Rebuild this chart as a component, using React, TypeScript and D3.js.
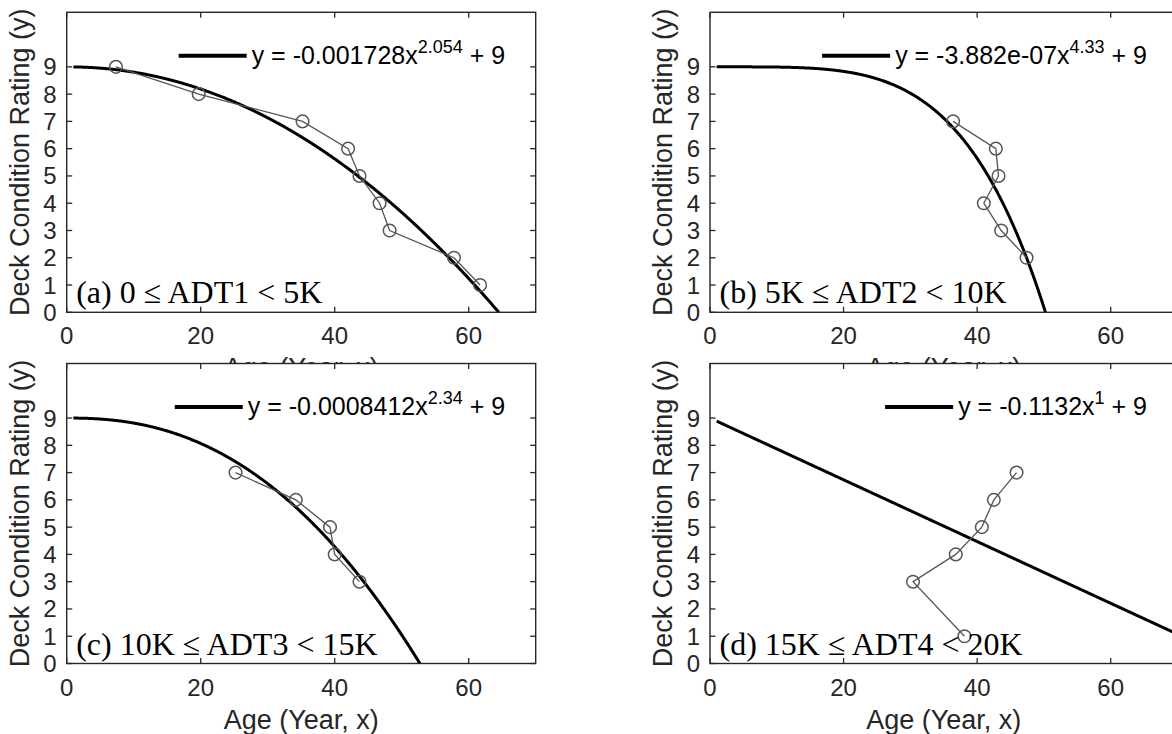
import React, { useEffect, useRef } from "react";
import * as d3 from "d3";

// ---- data ----
const xTicks = [0, 20, 40, 60];
const yTicks = [0, 1, 2, 3, 4, 5, 6, 7, 8, 9];

const agesA = [7.35, 19.7, 35.2, 42.0, 43.7, 46.7, 48.2, 57.8, 61.7];
const ratingsA = [9, 8, 7, 6, 5, 4, 3, 2, 1];
const agesB = [36.4, 42.8, 43.2, 41.0, 43.6, 47.4];
const ratingsB = [7, 6, 5, 4, 3, 2];
const agesC = [25.2, 34.2, 39.3, 40.0, 43.7];
const ratingsC = [7, 6, 5, 4, 3];
const agesD = [45.9, 42.5, 40.7, 36.8, 30.4, 38.1];
const ratingsD = [7, 6, 5, 4, 3, 1];

const coefs = [-0.001728, -3.882e-7, -0.0008412, -0.1132];
const expons = [2.054, 4.33, 2.34, 1];
const intercept = 9;
const coefLabels = ["-0.001728", "-3.882e-07", "-0.0008412", "-0.1132"];
const exponLabels = ["2.054", "4.33", "2.34", "1"];
const panelLabels = [
  "(a) 0 \u2264 ADT1 < 5K",
  "(b) 5K \u2264 ADT2 < 10K",
  "(c) 10K \u2264 ADT3 < 15K",
  "(d) 15K \u2264 ADT4 < 20K",
];
const xTitle = "Age (Year, x)";
const yTitle = "Deck Condition Rating (y)";

const W = 1172;
const H = 734;
const SANS = "'Liberation Sans', Arial, Helvetica, sans-serif";
const SERIF = "'Liberation Serif', 'Times New Roman', serif";
const AXC = "#262626";
const DATAC = "#555555";

export default function App() {
  const ref = useRef<SVGSVGElement | null>(null);

  useEffect(() => {
    const svg = d3.select(ref.current);
    svg.selectAll("*").remove();

    const boxes = [
      { l: 66.7, r: 535.7, t: 12.3, b: 312.3 },
      { l: 710, r: 1177.5, t: 12.3, b: 312.3 },
      { l: 66.7, r: 535.7, t: 363.5, b: 663.5 },
      { l: 710, r: 1177.5, t: 363.5, b: 663.5 },
    ];
    const ages = [agesA, agesB, agesC, agesD];
    const ratings = [ratingsA, ratingsB, ratingsC, ratingsD];

    svg.append("rect").attr("width", W).attr("height", H).attr("fill", "#fff");

    boxes.forEach((bx, i) => {
      const g = svg.append("g");
      const x = d3.scaleLinear().domain([0, 70]).range([bx.l, bx.r]);
      const y = d3.scaleLinear().domain([0, 11]).range([bx.b, bx.t]);

      g.append("rect")
        .attr("x", bx.l).attr("y", bx.t)
        .attr("width", bx.r - bx.l).attr("height", bx.b - bx.t)
        .attr("fill", "#fff");

      const clipId = `clip${i}`;
      g.append("clipPath").attr("id", clipId)
        .append("rect")
        .attr("x", bx.l).attr("y", bx.t)
        .attr("width", bx.r - bx.l).attr("height", bx.b - bx.t);

      // fitted curve
      const a = coefs[i], p = expons[i];
      const f = (v: number) => intercept + a * Math.pow(v, p);
      const xZero = Math.min(70, Math.pow(-intercept / a, 1 / p));
      const xs = d3.range(1, xZero, 0.1).concat([xZero]);
      const line = d3.line<number>().x((v) => x(v)).y((v) => y(f(v)));
      g.append("path")
        .attr("d", line(xs) as string)
        .attr("fill", "none")
        .attr("stroke", "#000")
        .attr("stroke-width", 3)
        .attr("clip-path", `url(#${clipId})`);

      // data polyline + markers
      const pts = ages[i].map((v, k) => [v, ratings[i][k]] as [number, number]);
      const dline = d3.line<[number, number]>().x((d) => x(d[0])).y((d) => y(d[1]));
      g.append("path")
        .attr("d", dline(pts) as string)
        .attr("fill", "none")
        .attr("stroke", DATAC)
        .attr("stroke-width", 1.3);
      g.selectAll("circle.m").data(pts).enter().append("circle")
        .attr("class", "m")
        .attr("cx", (d) => x(d[0]))
        .attr("cy", (d) => y(d[1]))
        .attr("r", 6.3)
        .attr("fill", "none")
        .attr("stroke", DATAC)
        .attr("stroke-width", 1.5);

      // ticks (inward, all 4 sides)
      const tl = 5.5;
      xTicks.forEach((t) => {
        g.append("line").attr("x1", x(t)).attr("x2", x(t)).attr("y1", bx.b).attr("y2", bx.b - tl)
          .attr("stroke", AXC).attr("stroke-width", 1.3);
        g.append("line").attr("x1", x(t)).attr("x2", x(t)).attr("y1", bx.t).attr("y2", bx.t + tl)
          .attr("stroke", AXC).attr("stroke-width", 1.3);
        g.append("text").attr("x", x(t)).attr("y", bx.b + 32)
          .attr("text-anchor", "middle").attr("font-family", SANS).attr("font-size", 24)
          .attr("fill", AXC).text(String(t));
      });
      yTicks.forEach((t) => {
        g.append("line").attr("x1", bx.l).attr("x2", bx.l + tl).attr("y1", y(t)).attr("y2", y(t))
          .attr("stroke", AXC).attr("stroke-width", 1.3);
        g.append("line").attr("x1", bx.r).attr("x2", bx.r - tl).attr("y1", y(t)).attr("y2", y(t))
          .attr("stroke", AXC).attr("stroke-width", 1.3);
        g.append("text").attr("x", bx.l - 10).attr("y", y(t) + 8.5)
          .attr("text-anchor", "end").attr("font-family", SANS).attr("font-size", 24)
          .attr("fill", AXC).text(String(t));
      });

      // box
      g.append("rect")
        .attr("x", bx.l).attr("y", bx.t)
        .attr("width", bx.r - bx.l).attr("height", bx.b - bx.t)
        .attr("fill", "none").attr("stroke", AXC).attr("stroke-width", 1.4);

      // axis titles
      g.append("text")
        .attr("x", (bx.l + bx.r) / 2)
        .attr("y", bx.b + 65)
        .attr("text-anchor", "middle").attr("font-family", SANS).attr("font-size", 27)
        .attr("fill", AXC).text(xTitle);
      g.append("text")
        .attr("transform", `translate(${bx.l - 38},${(bx.t + bx.b) / 2}) rotate(-90)`)
        .attr("text-anchor", "middle").attr("font-family", SANS).attr("font-size", 27)
        .attr("fill", AXC).text(yTitle);

      // legend
      const ly = bx.t + 43.4;
      const lt = g.append("text")
        .attr("y", ly + 8.5)
        .attr("font-family", SANS).attr("font-size", 25).attr("fill", "#000");
      lt.append("tspan").text(`y = ${coefLabels[i]}x`);
      lt.append("tspan").attr("dy", -11).attr("font-size", 18).text(exponLabels[i]);
      lt.append("tspan").attr("dy", 11).text(" + 9");
      const tw = (lt.node() as SVGTextElement).getComputedTextLength();
      const textStart = bx.r - 30.5 - tw;
      lt.attr("x", textStart);
      g.append("line")
        .attr("x1", textStart - 73).attr("x2", textStart - 5)
        .attr("y1", ly).attr("y2", ly)
        .attr("stroke", "#000").attr("stroke-width", 4);

      // panel label
      g.append("text")
        .attr("x", bx.l + 9.5).attr("y", bx.b - 9)
        .attr("font-family", SERIF).attr("font-size", 32).attr("fill", "#000")
        .text(panelLabels[i]);
    });
  }, []);

  return (
    <svg
      ref={ref}
      width={W}
      height={H}
      style={{ position: "absolute", left: 0, top: 0, display: "block" }}
    />
  );
}
